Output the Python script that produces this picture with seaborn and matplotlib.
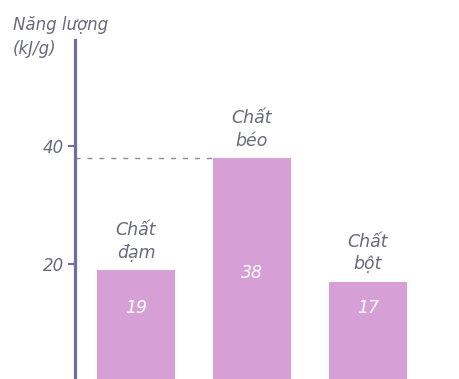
import matplotlib
matplotlib.use("Agg")
import matplotlib.pyplot as plt
import seaborn as sns
import pandas as pd

# Energy yield per gram of each nutrient group
categories = ["Chất\nđạm", "Chất\nbéo", "Chất\nbột"]
energy = [19, 38, 17]
yticks = [20, 40]

sns.set_style("white")
plt.rcParams["font.family"] = ["DejaVu Sans"]

bar_color = "#d6a0d7"
axis_color = "#6f6f98"
text_color = "#6a6a7c"

df = pd.DataFrame({"cat": categories, "val": energy})

fig = plt.figure(figsize=(4.6, 3.79), dpi=100)
# the baseline sits just below the lower edge of the canvas
ax = fig.add_axes([75 / 460, -3 / 379, 385 / 460, 342 / 379])

width = 0.68
sns.barplot(data=df, x="cat", y="val", color=bar_color, width=width,
            saturation=1, ax=ax, edgecolor="none")

ax.set_xlim(-0.526, 2.793)
ax.set_ylim(0, 58)

for s in ["top", "right", "bottom"]:
    ax.spines[s].set_visible(False)
ax.spines["left"].set_color(axis_color)
ax.spines["left"].set_linewidth(2.3)

ax.set_xticks([])
ax.set_yticks(yticks)
ax.set_yticklabels([str(t) for t in yticks], fontsize=12, style="italic",
                   color=text_color)
ax.tick_params(axis="y", left=True, direction="out", length=5, width=1.5,
               color=axis_color, pad=3)
ax.set_xlabel("")
ax.set_ylabel("")

# dashed guide from the axis to the tallest bar
imax = energy.index(max(energy))
ax.plot([ax.get_xlim()[0], imax - width / 2], [energy[imax], energy[imax]],
        ls=(0, (3.6, 5)), color="#8c8c8c", lw=1, clip_on=False)

for i, (c, v) in enumerate(zip(categories, energy)):
    ax.annotate(c, (i, v), xytext=(0, 6), textcoords="offset points",
                ha="center", va="bottom", multialignment="center",
                fontsize=12.5, style="italic", color=text_color,
                linespacing=1.3)
    ylab = 12.5 if v < 30 else 18.5
    ax.text(i, ylab, str(v), ha="center", va="center", fontsize=12.5,
            style="italic", color="white")

fig.text(13 / 460, 1 - 16 / 379, "Năng lượng\n(kJ/g)", ha="left", va="top",
         fontsize=12, style="italic", color=text_color, linespacing=1.45)

fig.savefig("out.png", dpi=100)
